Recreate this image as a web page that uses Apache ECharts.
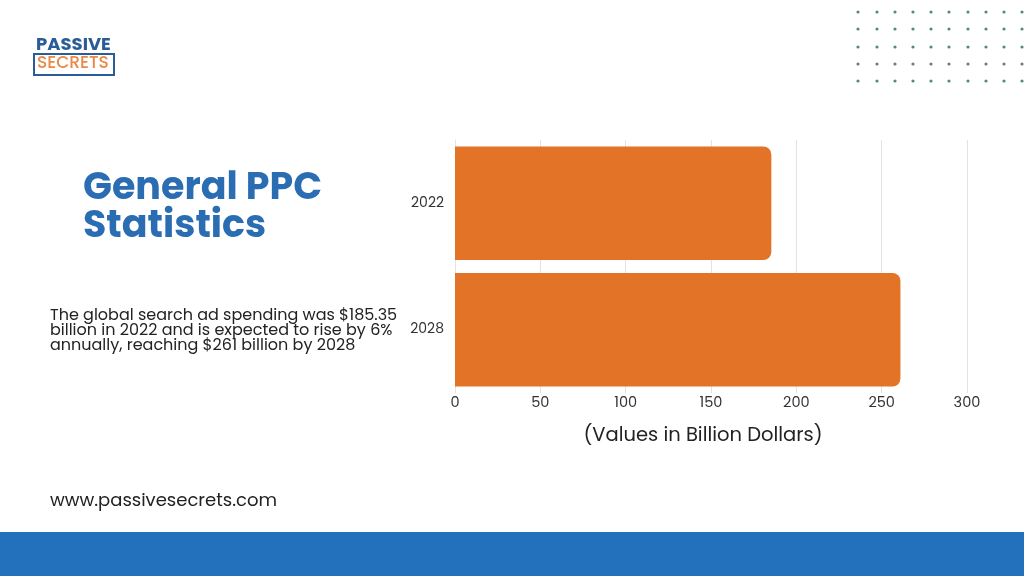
<!DOCTYPE html>
<html>
<head>
<meta charset="utf-8">
<script src="https://cdn.jsdelivr.net/npm/echarts@6/dist/echarts.min.js"></script>
<style>
html,body{margin:0;padding:0;background:#fff;}
#main{width:1024px;height:576px;}
</style>
</head>
<body>
<div id="main"></div>
<script>
const categories = ['2022', '2028'];
const values = [185.35, 261];
const xTicks = [0, 50, 100, 150, 200, 250, 300];
const titleLines = ['General PPC', 'Statistics'];
const description = ['The global search ad spending was $185.35', 'billion in 2022 and is expected to rise by 6%', 'annually, reaching $261 billion by 2028'];
const axisName = '(Values in Billion Dollars)';
const website = 'www.passivesecrets.com';

const chart = echarts.init(document.getElementById('main'), null, {renderer: 'canvas'});

const dotCols = [858, 877, 895, 913, 931, 949, 968, 986, 1004, 1022];
const dotRows = [12, 29, 47, 64, 81];
const dots = [];
dotRows.forEach(y => dotCols.forEach(x => {
  dots.push({type: 'circle', shape: {cx: x, cy: y, r: 1.6}, style: {fill: '#5a8878'}, silent: true});
}));

const F = 'Poppins, Inter, "Noto Sans", sans-serif';

const option = {
  backgroundColor: '#ffffff',
  animation: false,
  grid: {left: 455, right: 57, top: 140, bottom: 183, containLabel: false},
  xAxis: {
    type: 'value', min: 0, max: 300, interval: 50,
    axisLine: {show: false}, axisTick: {show: false},
    splitLine: {show: true, lineStyle: {color: '#e3e3e3', width: 1}},
    axisLabel: {color: '#333', fontSize: 14.5, fontFamily: F, margin: 3},
    name: axisName, nameLocation: 'middle', nameGap: 33,
    nameTextStyle: {color: '#222', fontSize: 19.5, fontFamily: F, padding: [0, 16, 0, 0]}
  },
  yAxis: {
    type: 'category', data: categories, inverse: true,
    axisLine: {show: true, lineStyle: {color: '#e3e3e3'}}, axisTick: {show: false},
    axisLabel: {color: '#333', fontSize: 14, fontFamily: F, margin: 11}
  },
  series: [{
    type: 'bar', data: values, barCategoryGap: '10.3%',
    itemStyle: {color: '#e27327', borderRadius: [0, 8, 8, 0]}
  }],
  graphic: [
    {type: 'rect', shape: {x: 0, y: 532, width: 1024, height: 44}, style: {fill: '#2371bd'}, silent: true},
    {type: 'text', left: 36, top: 36, style: {text: 'PASSIVE', fill: '#2a5d96', font: 'bold 18px Poppins, sans-serif'}},
    {type: 'rect', shape: {x: 34, y: 54, width: 80, height: 21}, style: {fill: '#fff', stroke: '#2a5d96', lineWidth: 2}},
    {type: 'text', left: 37, top: 55, style: {text: 'SECRETS', fill: '#e98a47', font: '500 17px Poppins, sans-serif'}},
    {type: 'text', left: 83, top: 170, style: {text: titleLines.join('\n'), fill: '#2b6db3', font: 'bold 38px Poppins, Inter, sans-serif', lineHeight: 38}},
    {type: 'text', left: 50, top: 308, style: {text: description.join('\n'), fill: '#222', font: '16px Poppins, "DejaVu Sans", sans-serif', lineHeight: 15}},
    {type: 'text', left: 50, top: 492, style: {text: website, fill: '#222', font: '18px Poppins, Inter, sans-serif'}}
  ].concat(dots)
};
chart.setOption(option);
</script>
</body>
</html>
